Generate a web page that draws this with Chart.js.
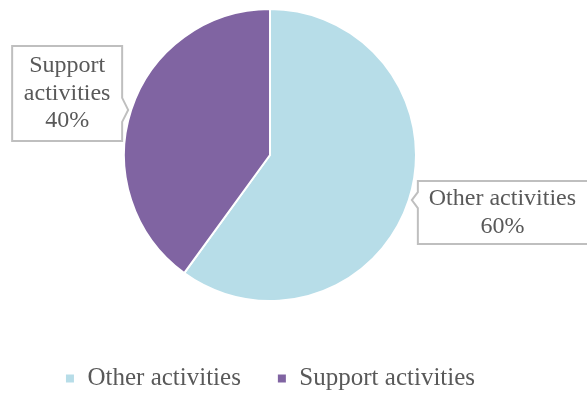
<!DOCTYPE html>
<html>
<head>
<meta charset="utf-8">
<script src="https://cdn.jsdelivr.net/npm/chart.js@4.4.0/dist/chart.umd.min.js"></script>
<style>
  html, body { margin: 0; padding: 0; background: #fff; }
  #chart { display: block; }
</style>
</head>
<body>
<canvas id="chart" width="587" height="398"></canvas>
<script>
const categories = ['Other activities', 'Support activities'];
const shares = [60, 40];
const sliceColors = ['#B7DDE8', '#8064A2'];

const FONT = 'Liberation Serif';
const FONT_SIZE = 24;
const LEGEND_SIZE = 25;
const TEXT_COLOR = '#595959';

// callout boxes, placed relative to the outer edge point at the middle of each slice
const calloutBoxes = [
  { side: 'right', gap: 9, width: 190, top: -19, height: 63 },
  { side: 'left', gap: 9, width: 110, top: -64, height: 95 }
];

function wrapWords(ctx, text, maxWidth) {
  const words = text.split(' ');
  const lines = [];
  let line = '';
  words.forEach(w => {
    const test = line ? line + ' ' + w : w;
    if (line && ctx.measureText(test).width > maxWidth) {
      lines.push(line);
      line = w;
    } else {
      line = test;
    }
  });
  if (line) lines.push(line);
  return lines;
}

const calloutPlugin = {
  id: 'callouts',
  afterDatasetsDraw(chart) {
    const ctx = chart.ctx;
    const meta = chart.getDatasetMeta(0);
    const total = shares.reduce((a, b) => a + b, 0);
    ctx.save();
    ctx.font = FONT_SIZE + 'px "' + FONT + '"';
    ctx.textAlign = 'center';
    ctx.textBaseline = 'middle';
    meta.data.forEach((arc, i) => {
      const p = arc.getProps(['x', 'y', 'startAngle', 'endAngle', 'outerRadius'], true);
      const mid = (p.startAngle + p.endAngle) / 2;
      const ex = p.x + Math.cos(mid) * p.outerRadius;
      const ey = p.y + Math.sin(mid) * p.outerRadius;
      const box = calloutBoxes[i];
      const dir = box.side === 'right' ? 1 : -1;
      const edgeX = ex + dir * box.gap;
      const left = dir > 0 ? edgeX : edgeX - box.width;
      const right = left + box.width;
      const top = ey + box.top;
      const bottom = top + box.height;
      const tipX = edgeX - dir * 6;

      ctx.beginPath();
      ctx.moveTo(left, top);
      ctx.lineTo(right, top);
      if (dir < 0) {
        ctx.lineTo(right, ey - 12);
        ctx.lineTo(tipX, ey);
        ctx.lineTo(right, ey + 12);
      }
      ctx.lineTo(right, bottom);
      ctx.lineTo(left, bottom);
      if (dir > 0) {
        ctx.lineTo(left, ey + 8);
        ctx.lineTo(tipX, ey);
        ctx.lineTo(left, ey - 8);
      }
      ctx.closePath();
      ctx.fillStyle = '#ffffff';
      ctx.fill();
      ctx.lineWidth = 2;
      ctx.strokeStyle = '#BFBFBF';
      ctx.stroke();

      // text is centred on the visible part of the box
      const lines = wrapWords(ctx, categories[i], box.width - 16);
      lines.push(Math.round(shares[i] / total * 100) + '%');
      const lh = 27.5;
      const cx = (Math.max(left, 0) + Math.min(right, chart.width)) / 2;
      const cy = (top + bottom) / 2;
      ctx.fillStyle = TEXT_COLOR;
      lines.forEach((l, k) => {
        ctx.fillText(l, cx, cy + (k - (lines.length - 1) / 2) * lh);
      });
    });
    ctx.restore();
  }
};

new Chart(document.getElementById('chart'), {
  type: 'pie',
  data: {
    labels: categories,
    datasets: [{
      data: shares,
      backgroundColor: sliceColors,
      borderColor: '#ffffff',
      borderWidth: 2
    }]
  },
  options: {
    responsive: false,
    animation: false,
    devicePixelRatio: 1,
    layout: { padding: { top: 8, left: 0, right: 47, bottom: -3 } },
    plugins: {
      legend: {
        position: 'bottom',
        // empty title only pushes the legend row down
        title: { display: true, text: '', padding: 0, font: { size: 20, lineHeight: 1.4 } },
        labels: {
          boxWidth: 10,
          boxHeight: 10,
          padding: 36,
          color: TEXT_COLOR,
          font: { family: FONT, size: LEGEND_SIZE }
        }
      },
      tooltip: { enabled: false }
    }
  },
  plugins: [calloutPlugin]
});
</script>
</body>
</html>
